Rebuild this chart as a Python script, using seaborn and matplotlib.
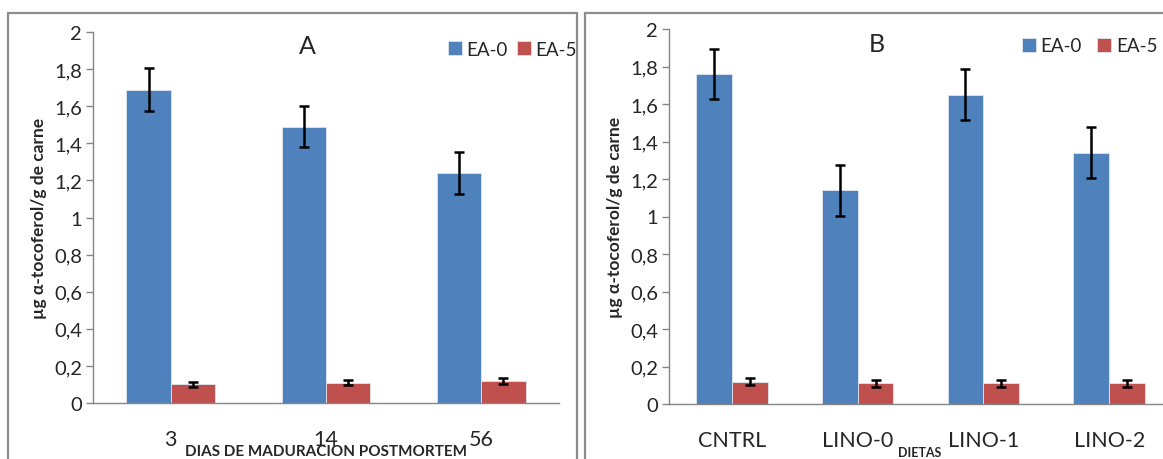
import pandas as pd
import matplotlib
matplotlib.use("Agg")
import matplotlib.pyplot as plt
import seaborn as sns
from matplotlib.patches import Rectangle
from matplotlib.ticker import FuncFormatter, FixedLocator

# data
dias = ["3", "14", "56"]
a_ea0 = [1.69, 1.49, 1.24]
a_ea0_err = [0.115, 0.11, 0.115]
a_ea5 = [0.10, 0.11, 0.12]
a_ea5_err = [0.015, 0.015, 0.015]

dietas = ["CNTRL", "LINO-0", "LINO-1", "LINO-2"]
b_ea0 = [1.76, 1.14, 1.65, 1.34]
b_ea0_err = [0.135, 0.135, 0.135, 0.135]
b_ea5 = [0.12, 0.11, 0.11, 0.11]
b_ea5_err = [0.02, 0.018, 0.018, 0.018]

groups = ["EA-0", "EA-5"]
colors = {"EA-0": "#4F81BD", "EA-5": "#C0504D"}

sns.set_style("white")
plt.rcParams["font.family"] = ["Lato", "DejaVu Sans"]

W, H = 1163, 460
fig = plt.figure(figsize=(W / 100, H / 100), dpi=100)


def px_axes(left, right, top, bottom):
    return fig.add_axes([left / W, 1 - bottom / H, (right - left) / W, (bottom - top) / H])


def panel(ax, cats, ea0, ea0_err, ea5, ea5_err, title, title_xy, leg_xy, colsp):
    df = pd.DataFrame({
        "cat": cats * 2,
        "val": ea0 + ea5,
        "grp": ["EA-0"] * len(cats) + ["EA-5"] * len(cats),
    })
    sns.barplot(data=df, x="cat", y="val", hue="grp", order=cats, hue_order=groups,
                palette=colors, width=0.57, errorbar=None, ax=ax,
                edgecolor="#dfe6f0", linewidth=0.6, saturation=1)
    errs = {"EA-0": ea0_err, "EA-5": ea5_err}
    for cont, g in zip(ax.containers, groups):
        xs = [b.get_x() + b.get_width() / 2 for b in cont]
        ys = [b.get_height() for b in cont]
        ax.errorbar(xs, ys, yerr=errs[g], fmt="none", ecolor="black",
                    elinewidth=1.8, capsize=3.8, capthick=1.8, zorder=5)
    n = len(cats)
    ax.set_xlim(-0.5, n - 0.5)
    ax.set_ylim(0, 2)
    ax.yaxis.set_major_locator(FixedLocator([i / 5 for i in range(11)]))
    ax.yaxis.set_major_formatter(FuncFormatter(lambda v, p: ("%g" % round(v, 1)).replace(".", ",")))
    ax.set_xticks([i - 0.5 for i in range(n + 1)])
    ax.set_xticklabels([])
    ax.set_xticks(range(n), minor=True)
    ax.set_xticklabels(cats, minor=True, fontsize=15.5)
    ax.tick_params(axis="x", which="major", direction="out", length=9, width=1, color="#868686")
    ax.tick_params(axis="x", which="minor", length=0, pad=19)
    ax.tick_params(axis="y", direction="out", length=5, width=1, color="#868686",
                   labelsize=14.5, pad=3, left=True)
    for s in ["top", "right"]:
        ax.spines[s].set_visible(False)
    for s in ["left", "bottom"]:
        ax.spines[s].set_color("#868686")
        ax.spines[s].set_linewidth(1)
    ax.set_xlabel("")
    ax.set_ylabel("µg α-tocoferol/g de carne", fontsize=12.5, fontweight="bold", labelpad=5)
    fig.text(title_xy[0] / W, 1 - title_xy[1] / H, title, fontsize=18, ha="center", va="center")
    ax.legend(loc="center left", bbox_to_anchor=(leg_xy[0] / W, 1 - leg_xy[1] / H),
              bbox_transform=fig.transFigure, ncol=2, frameon=False, fontsize=13.5,
              handlelength=0.75, handleheight=0.75, handletextpad=0.25,
              columnspacing=colsp, borderpad=0, borderaxespad=0)


axA = px_axes(93, 559, 33, 404)
panel(axA, dias, a_ea0, a_ea0_err, a_ea5, a_ea5_err, "A", (307, 47), (448, 50), 0.45)
fig.text(326 / W, 1 - 452 / H, "DIAS DE MADURACION POSTMORTEM", fontsize=11,
         fontweight="bold", ha="center", va="center")

axB = px_axes(669, 1172, 30, 405)
panel(axB, dietas, b_ea0, b_ea0_err, b_ea5, b_ea5_err, "B", (877, 44), (1022, 47), 0.8)
fig.text(920 / W, 1 - 453 / H, "DIETAS", fontsize=9, fontweight="bold",
         ha="center", va="center")

# panel frames
for x0, x1 in [(8, 577), (585, 1175)]:
    fig.patches.append(Rectangle((x0 / W, -0.05), (x1 - x0) / W, 1.05 - 14 / H,
                                 transform=fig.transFigure, fill=False,
                                 edgecolor="#8c8c8c", linewidth=1.6))

fig.savefig("out.png", dpi=100)
